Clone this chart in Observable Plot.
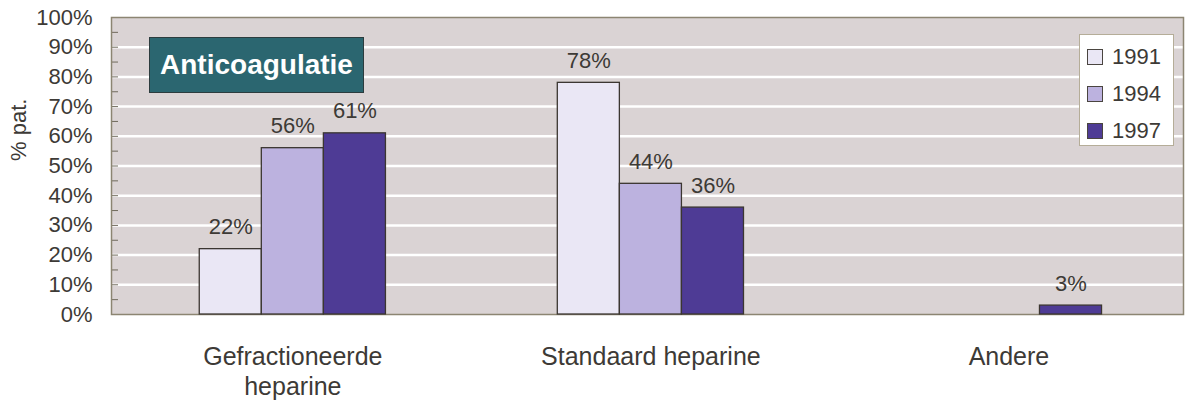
<!DOCTYPE html>
<html>
<head>
<meta charset="utf-8">
<script src="https://cdn.jsdelivr.net/npm/d3@7"></script>
<script src="https://cdn.jsdelivr.net/npm/@observablehq/plot@0.6"></script>
<style>
  html, body { margin: 0; padding: 0; background: #ffffff; }
  #chart { position: relative; width: 1185px; height: 404px; font-family: "Liberation Sans", Arial, sans-serif; }
  #chart svg { position: absolute; left: 0; top: 0; background: transparent !important; }
  #title { position: absolute; left: 149px; top: 37px; width: 213px; height: 54px; background: #2b6670;
           border: 1px solid #2c3c3e; color: #ffffff; font-weight: bold; font-size: 28px; line-height: 54px;
           text-align: center; }
  #legend { position: absolute; left: 1079px; top: 34px; width: 93px; height: 110px; background: #ffffff;
            border: 1px solid #b5ad98; }
  .item { position: absolute; left: 7px; height: 22px; display: flex; align-items: center; font-size: 22px; color: #3d3a36; }
  .sw { width: 14px; height: 14px; border: 1px solid #4a4540; margin-right: 9px; }
</style>
</head>
<body>
<div id="chart"></div>
<script>
// ---- data ----
const categories = ["Gefractioneerde\nheparine", "Standaard heparine", "Andere"];
const years = ["1991", "1994", "1997"];
const values1991 = [22, 78, null];
const values1994 = [56, 44, null];
const values1997 = [61, 36, 3];
const yTicks = [0, 10, 20, 30, 40, 50, 60, 70, 80, 90, 100];
const minorTicks = [0, 5, 10, 15, 20, 25, 30, 35, 40, 45, 50, 55, 60, 65, 70, 75, 80, 85, 90, 95, 100];
const yearColors = ["#eae7f5", "#bcb2df", "#4e3b95"];
const titleText = "Anticoagulatie";
const yLabel = "% pat.";

const series = [values1991, values1994, values1997];
const rows = [];
categories.forEach((c, i) => years.forEach((y, j) => {
  const v = series[j][i];
  if (v != null) rows.push({cat: c, year: y, value: v});
}));

const W = 1185, H = 404;
const M = {marginLeft: 111, marginRight: 2, marginTop: 17, marginBottom: 90};
const ink = "#3d3a36";
const font = "Liberation Sans, Arial, sans-serif";

// background layer: panel, gridlines, y axis
const back = Plot.plot({
  width: W, height: H, ...M,
  style: {fontFamily: font, color: ink, background: "transparent"},
  y: {domain: [0, 100], axis: null},
  marks: [
    Plot.frame({fill: "#dad3d4", stroke: "none"}),
    Plot.ruleY(yTicks.filter(d => d > 0 && d < 100), {stroke: "#ffffff", strokeWidth: 2.5}),
    Plot.ruleY(minorTicks, {stroke: "#6f6a5c", strokeWidth: 1, insetRight: W - M.marginLeft - M.marginRight - 7}),
    Plot.axisY(yTicks, {tickSize: 0, tickPadding: 19, fontSize: 22, fill: ink, label: null, tickFormat: d => d + "%"}),
    Plot.text([yLabel], {frameAnchor: "left", dx: -93, dy: -5, rotate: -90, fontSize: 22, fill: ink}),
    Plot.frame({stroke: "#8c8572", strokeWidth: 1.5})
  ]
});

// bars layer
const front = Plot.plot({
  width: W, height: H, ...M,
  style: {fontFamily: font, color: ink, background: "transparent"},
  fx: {domain: categories, paddingInner: 0.48, paddingOuter: 0.237, align: 0.52, round: false},
  x: {domain: years, padding: 0, axis: null, round: false},
  y: {domain: [0, 100], axis: null},
  color: {domain: years, range: yearColors},
  marks: [
    Plot.barY(rows, {fx: "cat", x: "year", y: "value", fill: "year", stroke: "#3b3631", strokeWidth: 1.3}),
    Plot.text(rows, {fx: "cat", x: "year", y: "value", text: d => d.value + "%", dy: -22, fontSize: 22, fill: ink}),
    Plot.axisFx({anchor: "bottom", tickSize: 0, tickPadding: 29, fontSize: 25, lineHeight: 1.2, label: null, fill: ink})
  ]
});

const chart = document.getElementById("chart");
chart.appendChild(back);
chart.appendChild(front);

// title box
const t = document.createElement("div");
t.id = "title";
t.textContent = titleText;
chart.appendChild(t);

// legend
const lg = document.createElement("div");
lg.id = "legend";
years.forEach((y, i) => {
  const it = document.createElement("div");
  it.className = "item";
  it.style.top = (11 + i * 37) + "px";
  const sw = document.createElement("span");
  sw.className = "sw";
  sw.style.background = yearColors[i];
  const tx = document.createElement("span");
  tx.textContent = y;
  it.appendChild(sw); it.appendChild(tx);
  lg.appendChild(it);
});
chart.appendChild(lg);
</script>
</body>
</html>
